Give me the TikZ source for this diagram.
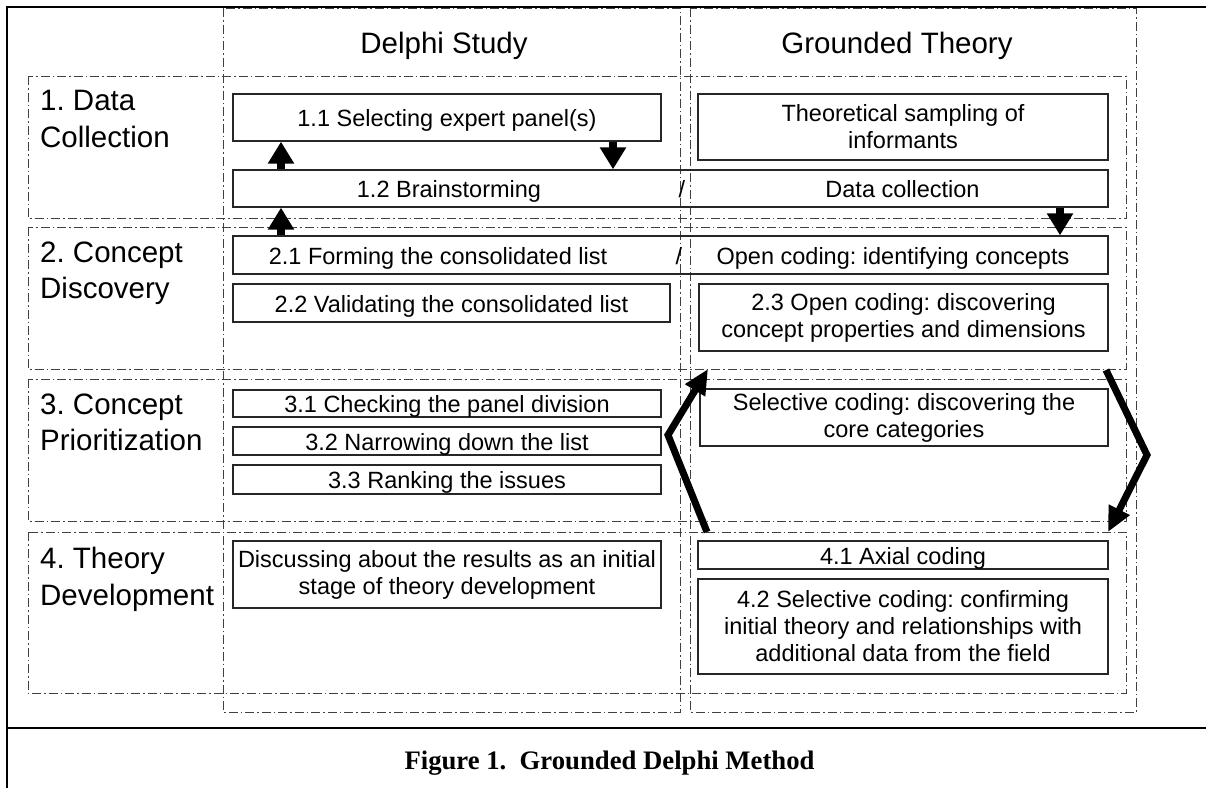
\documentclass[tikz,border=0pt]{standalone}
\usepackage{fontspec}
\setmainfont{Liberation Sans}
\newfontfamily\capfont{Liberation Serif}
\usetikzlibrary{arrows.meta}
\frenchspacing
\begin{document}
\begin{tikzpicture}[x=1pt,y=-1pt,
  frameline/.style={line width=2.2pt},
  dd/.style={draw=black!75, line width=0.8pt, dash pattern=on 9pt off 3pt on 1.5pt off 3pt},
  bx/.style={draw=black!85, line width=1.3pt, inner sep=0pt, align=center, font=\fontsize{23.5}{27}\selectfont\frenchspacing},
  one/.style={text height=18pt, text depth=0pt},
  txt/.style={inner sep=0pt, anchor=base, font=\fontsize{23.5}{27}\selectfont\frenchspacing},
  lbl/.style={inner sep=0pt, anchor=north west, align=left, font=\fontsize{29.5}{36.5}\selectfont\frenchspacing},
  hdr/.style={inner sep=0pt, anchor=base, font=\fontsize{29.5}{36}\selectfont},
  sarr/.style={line width=8pt, -{Triangle[width=25pt,length=22pt]}},
  barr/.style={line width=7pt, line join=miter, -{Triangle[width=22pt,length=25pt]}},
]
\useasboundingbox (0,0) rectangle (1206,788);
% outer frame
\draw[frameline] (7,788) -- (7,7) -- (1206,7);
\draw[frameline] (7,728) -- (1206,728);
% column and row regions
\draw[dd] (223,8) rectangle (680,712);
\draw[dd] (690,8) rectangle (1136,712);
\draw[dd] (28,76) rectangle (1126,218);
\draw[dd] (28,227) rectangle (1126,369);
\draw[dd] (28,379) rectangle (1126,521);
\draw[dd] (28,532) rectangle (1126,693);
% headers
\node[hdr] (hd) at (444,53) {Delphi Study};
\node[hdr] (hg) at (897,53) {Grounded Theory};
% row labels
\node[lbl] (r1) at (40,90) {1. Data\\Collection};
\node[lbl] (r2) at (40,241.5) {2. Concept\\Discovery};
\node[lbl] (r3) at (40,393.5) {3. Concept\\Prioritization};
\node[lbl] (r4) at (40,547) {4. Theory\\Development};
% boxes
\node[bx, one, minimum width=428pt, minimum height=47pt] (b11) at (447,117.5) {1.1 Selecting expert panel(s)};
\node[bx, minimum width=410pt, minimum height=66pt] (bts) at (903,127) {Theoretical sampling of\\informants};
\node[bx, minimum width=875pt, minimum height=37pt] (b12) at (670.5,188.5) {};
\node[txt] (t12a) at (449,197) {1.2 Brainstorming};
\node[txt] (t12s) at (682,197) {/};
\node[txt] (t12b) at (902.5,197) {Data collection};
\node[bx, minimum width=875pt, minimum height=38pt] (b21) at (670.5,255) {};
\node[txt] (t21a) at (438,264) {2.1 Forming the consolidated list};
\node[txt] (t21s) at (679,264) {/};
\node[txt] (t21b) at (893,264) {Open coding: identifying concepts};
\node[bx, one, minimum width=437pt, minimum height=38pt] (b22) at (451.5,303) {2.2 Validating the consolidated list};
\node[bx, minimum width=409pt, minimum height=67pt] (b23) at (903.5,317.5) {2.3 Open coding: discovering\\concept properties and dimensions};
\node[bx, one, minimum width=428pt, minimum height=27pt] (b31) at (447,403.5) {3.1 Checking the panel division};
\node[bx, one, minimum width=428pt, minimum height=28pt] (b32) at (447,441) {3.2 Narrowing down the list};
\node[bx, one, minimum width=428pt, minimum height=29pt] (b33) at (447,479.5) {3.3 Ranking the issues};
\node[bx, minimum width=408pt, minimum height=57pt] (bsc) at (904,417.5) {Selective coding: discovering the\\core categories};
\node[bx, minimum width=428pt, minimum height=67pt] (bdis) at (447,574.5) {Discussing about the results as an initial\\stage of theory development};
\node[bx, one, minimum width=410pt, minimum height=28pt] (b41) at (903,555) {4.1 Axial coding};
\node[bx, minimum width=410pt, minimum height=95pt] (b42) at (903,626.5) {4.2 Selective coding: confirming\\initial theory and relationships with\\additional data from the field};
% caption
\node[anchor=base, inner sep=0pt, font=\capfont\bfseries\fontsize{26.7}{30}\selectfont] (cap) at (609.5,769) {Figure 1.\ \ Grounded Delphi Method};
% small arrows
\coordinate (ua) at (281,0);
\coordinate (da) at (613,0);
\coordinate (db) at (1060,0);
\draw[sarr] (ua |- b12.north) -- (ua |- b11.south);
\draw[sarr] (da |- b11.south) -- (da |- b12.north);
\draw[sarr] (ua |- b21.north) -- (ua |- b12.south);
\draw[sarr] (db |- b12.south) -- (db |- b21.north);
% big cycle arrows
\coordinate (l1) at (707,532);
\coordinate (l2) at (668,435);
\coordinate (l3) at (708,369);
\coordinate (q1) at (1106,370);
\coordinate (q2) at (1147,455);
\coordinate (q3) at (1108,532);
\draw[barr] (l1) -- (l2) -- (l3);
\draw[barr] (q1) -- (q2) -- (q3);
\end{tikzpicture}
\end{document}
